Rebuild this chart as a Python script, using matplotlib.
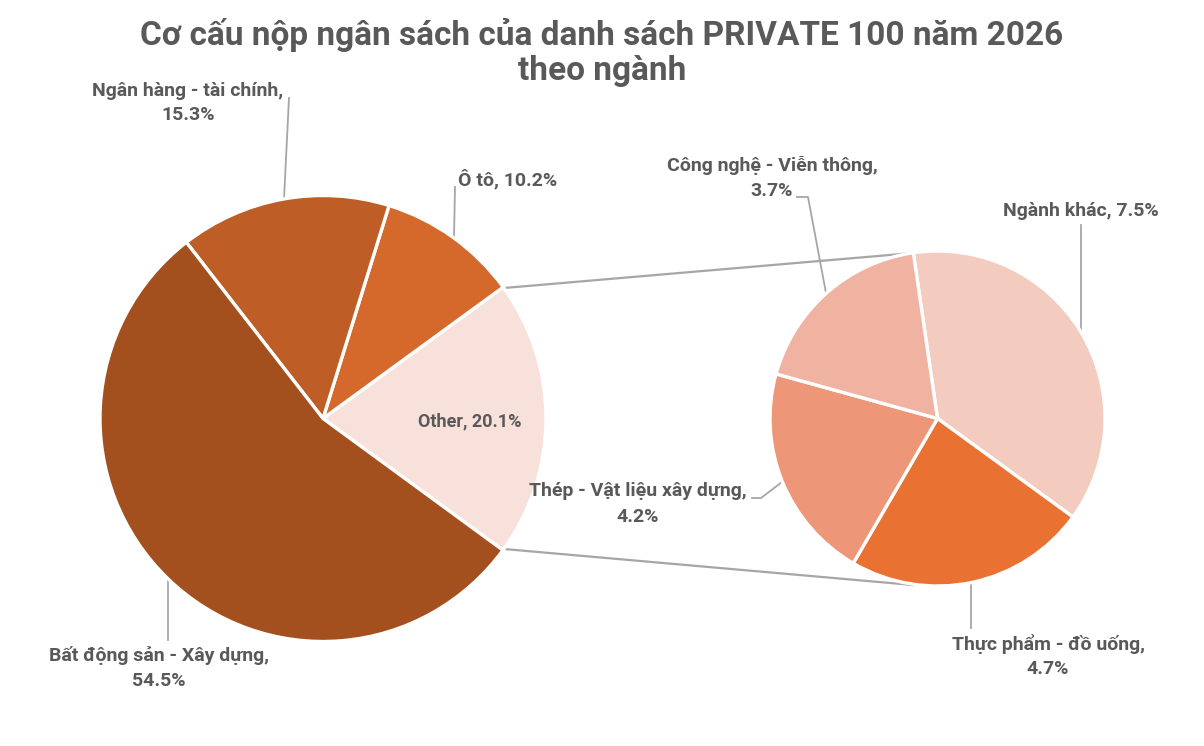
import matplotlib
matplotlib.use("Agg")
import matplotlib.pyplot as plt

plt.rcParams['font.family'] = ['Roboto', 'DejaVu Sans']

W, H = 1204, 746
GREY = '#595959'
LINE = '#A6A6A6'

# main pie, counter-clockwise from the "Other" slice
main_names = ['Other', 'Ô tô', 'Ngân hàng - tài chính', 'Bất động sản - Xây dựng']
main_values = [20.1, 10.2, 15.3, 54.5]
main_colors = ['#F8E1DA', '#D5682B', '#BE5D25', '#A44F1E']

# breakdown of "Other", clockwise
sub_names = ['Ngành khác', 'Thực phẩm - đồ uống', 'Thép - Vật liệu xây dựng', 'Công nghệ - Viễn thông']
sub_values = [7.5, 4.7, 4.2, 3.7]
sub_colors = ['#F4CBBF', '#E97132', '#EE9678', '#F0B2A1']

title_lines = ['Cơ cấu nộp ngân sách của danh sách PRIVATE 100 năm 2026', 'theo ngành']


def py(y):
    # pixel rows count down from the top of the picture
    return H - y


def leader(points, lw=1.3):
    ax.plot([p[0] for p in points], [py(p[1]) for p in points], color=LINE, lw=lw, zorder=0)


def label(x, y, text, ha='center', size=14):
    ax.text(x, py(y), text, ha=ha, va='center', color=GREY, fontsize=size,
            fontweight='bold', linespacing=1.5, zorder=5)


fig = plt.figure(figsize=(W / 100, H / 100), dpi=100)
ax = fig.add_axes([0, 0, 1, 1])

wedge = dict(edgecolor='white', linewidth=2.4)
ax.pie(main_values, colors=main_colors, center=(323, py(418.5)), radius=223,
       startangle=-36.2, counterclock=True, wedgeprops=wedge, normalize=True)
ax.pie(sub_values, colors=sub_colors, center=(937.5, py(418.5)), radius=167.5,
       startangle=98.3, counterclock=False, wedgeprops=wedge, normalize=True)

ax.set_xlim(0, W)
ax.set_ylim(0, H)
ax.set_aspect('equal')
ax.axis('off')

# connectors between the two pies
leader([(504, 288), (913, 253)], lw=1.6)
leader([(504, 549), (913, 585)], lw=1.6)

# label leaders
leader([(289, 98), (284, 199)])
leader([(455, 187), (454, 237)])
leader([(168, 580), (168, 640)])
leader([(797, 197), (808, 197), (826, 293)])
leader([(1081, 225), (1081, 332)])
leader([(752, 498), (761, 498), (782, 482)])
leader([(971, 585), (971, 628)])

# two texts so the long first line's box stays clear of the label below it
ax.text(602, py(35), title_lines[0], ha='center', va='center', color=GREY, fontsize=24, fontweight='bold')
ax.text(602, py(71), title_lines[1], ha='center', va='center', color=GREY, fontsize=24, fontweight='bold')

label(188, 103, f'{main_names[2]},\n{main_values[2]}%')
label(458, 179, f'{main_names[1]}, {main_values[1]}%', ha='left')
label(470, 421, f'{main_names[0]}, {main_values[0]}%', size=13)
label(159, 668, f'{main_names[3]},\n{main_values[3]}%')
label(772, 178, f'{sub_names[3]},\n{sub_values[3]}%')
label(1081, 211, f'{sub_names[0]}, {sub_values[0]}%')
label(638, 504, f'{sub_names[2]},\n{sub_values[2]}%')
label(1048, 656, f'{sub_names[1]},\n{sub_values[1]}%')

fig.savefig('out.png', dpi=100, facecolor='white')
